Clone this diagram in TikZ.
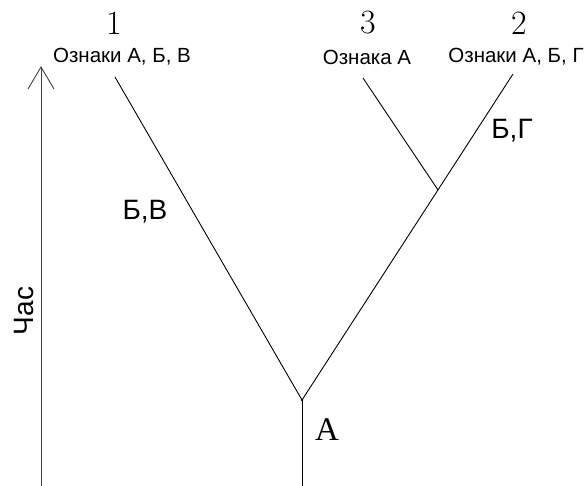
\documentclass[tikz,border=0pt]{standalone}
\usepackage{fontspec}
\newfontfamily\labelfont{Liberation Sans}
\newfontfamily\serifcyr{Liberation Serif}
\begin{document}
\begin{tikzpicture}[x=1pt,y=-1pt,
  branch/.style={line width=0.9pt, black},
  small/.style={font=\labelfont\fontsize{20.5}{20.5}\selectfont, inner sep=0pt},
  mid/.style={font=\labelfont\fontsize{28}{28}\selectfont, inner sep=0pt},
  num/.style={font=\fontsize{34}{34}\selectfont, inner sep=0pt}]
\useasboundingbox (0,0) rectangle (585,486);
% time axis
\coordinate (tb) at (41,486);
\coordinate (tt) at (41,67);
\draw[line width=0.9pt, black!75] (tb) -- (tt);
\draw[line width=0.9pt, black!75] (28,89) -- (tt) -- (54,89);
\node[mid, rotate=90] (time) at (24,311) {Час};
% tree
\coordinate (root) at (302,400);
\coordinate (base) at (302,486);
\coordinate (fork) at (438,190);
\coordinate (t1) at (115,77);
\coordinate (t3) at (363,78);
\coordinate (t2) at (513,74);
\draw[branch] (base) -- (root);
\draw[branch] (root) -- (t1);
\draw[branch] (root) -- (t2);
\draw[branch] (fork) -- (t3);
\fill (root) circle (1.3pt);
% labels
\node[num] (n1) at (114,23) {1};
\node[num] (n3) at (368,23) {3};
\node[num] (n2) at (519,23) {2};
\node[small] (s1) at (122,57) {Ознаки А, Б, В};
\node[small] (s3) at (367,57) {Ознака А};
\node[small] (s2) at (516,57) {Ознаки А, Б, Г};
\node[mid] (bv) at (145,212) {Б,В};
\node[mid] (bg) at (512,131) {Б,Г};
\node[font=\serifcyr\fontsize{33}{33}\selectfont, inner sep=0pt] (a) at (327,430) {А};
\end{tikzpicture}
\end{document}
